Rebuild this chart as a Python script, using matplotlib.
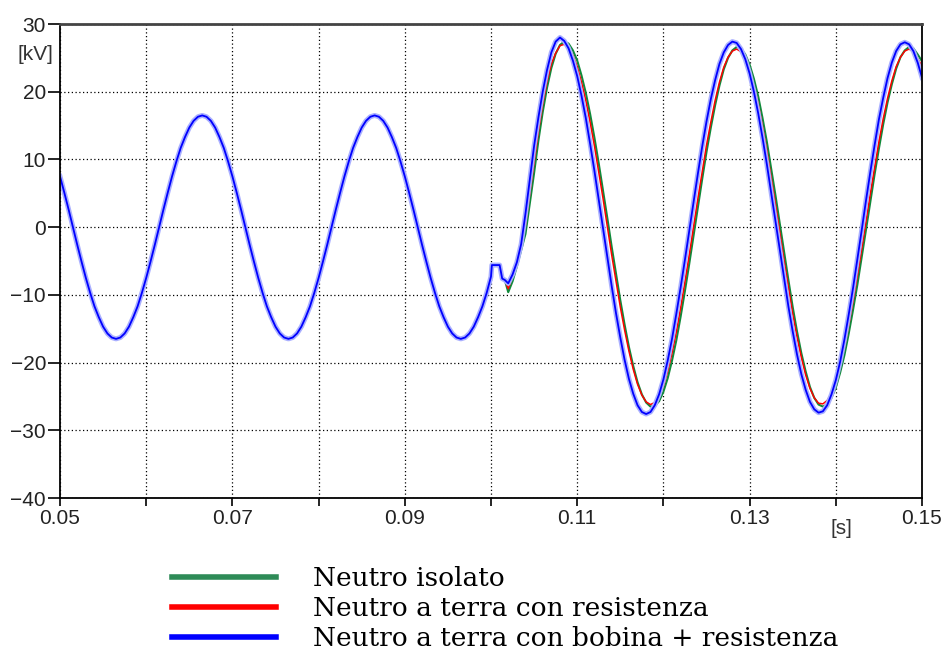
import numpy as np
import matplotlib.pyplot as plt
from matplotlib.lines import Line2D
import matplotlib.patheffects as pe

# tempi [ms] e tensioni [kV] lette dal grafico
# tratto comune prima del guasto (passo 0.5 ms da 50 a 100 ms, poi transitorio)
t_pre = list(np.arange(50.0, 100.01, 0.5)) + [100.1, 101.0, 101.3, 101.6]
v_pre = [7.5, 5.1, 2.6, 0.0, -2.6, -5.1, -7.5, -9.7, -11.7, -13.3,
         -14.7, -15.7, -16.3, -16.5, -16.3, -15.7, -14.7, -13.3, -11.7, -9.7,
         -7.5, -5.1, -2.6, 0.0, 2.6, 5.1, 7.5, 9.7, 11.7, 13.3,
         14.7, 15.7, 16.3, 16.5, 16.3, 15.7, 14.7, 13.3, 11.7, 9.7,
         7.5, 5.1, 2.6, 0.0, -2.6, -5.1, -7.5, -9.7, -11.7, -13.3,
         -14.7, -15.7, -16.3, -16.5, -16.3, -15.7, -14.7, -13.3, -11.7, -9.7,
         -7.5, -5.1, -2.6, 0.0, 2.6, 5.1, 7.5, 9.7, 11.7, 13.3,
         14.7, 15.7, 16.3, 16.5, 16.3, 15.7, 14.7, 13.3, 11.7, 9.7,
         7.5, 5.1, 2.6, 0.0, -2.6, -5.1, -7.5, -9.7, -11.7, -13.3,
         -14.7, -15.7, -16.3, -16.5, -16.3, -15.7, -14.7, -13.3, -11.7, -9.7,
         -7.3,
         -5.6, -5.6, -7.6, -7.8]

# dopo il guasto (passo 0.5 ms da 102 a 150 ms)
t_post = list(np.arange(102.0, 150.01, 0.5))
green_post = [-9.6, -8.0, -5.8, -3.4, -1.0, 3.5, 8.0, 12.8, 17.0, 20.6,
              23.5, 25.6, 26.9, 27.4, 27.1, 26.1, 24.6, 22.4, 19.8, 16.7,
              13.2, 9.4, 5.4, 1.3, -2.9, -6.9, -10.8, -14.4, -17.7, -20.5,
              -22.9, -24.7, -25.9, -26.5, -26.4, -25.7, -24.3, -22.3, -19.7, -16.7,
              -13.2, -9.4, -5.4, -1.2, 3.0, 7.1, 11.1, 14.7, 18.0, 20.9,
              23.3, 25.0, 26.1, 26.6, 26.4, 25.5, 24.0, 21.9, 19.3, 16.1,
              12.6, 8.7, 4.7, 0.5, -3.7, -7.8, -11.8, -15.4, -18.6, -21.3,
              -23.6, -25.2, -26.2, -26.5, -26.2, -25.2, -23.7, -21.5, -18.9, -15.7,
              -12.2, -8.5, -4.5, -0.4, 3.7, 7.8, 11.6, 15.2, 18.4, 21.1,
              23.4, 25.1, 26.1, 26.6, 26.4, 25.5, 24.5]
red_post = [-9.1, -7.3, -5.1, -2.7, 0.3, 4.9, 9.4, 14.1, 18.1, 21.5,
            24.1, 25.7, 26.8, 27.0, 26.5, 25.4, 23.7, 21.4, 18.7, 15.5,
            12.0, 8.1, 4.2, 0.0, -4.1, -8.0, -11.8, -15.2, -18.3, -21.0,
            -23.2, -24.8, -25.8, -26.2, -25.9, -25.0, -23.5, -21.3, -18.6, -15.5,
            -11.9, -8.1, -4.1, 0.1, 4.2, 8.2, 12.1, 15.5, 18.7, 21.4,
            23.6, 25.1, 26.0, 26.3, 25.9, 24.8, 23.2, 20.9, 18.2, 14.9,
            11.3, 7.4, 3.4, -0.8, -4.9, -8.9, -12.8, -16.2, -19.2, -21.8,
            -23.8, -25.2, -26.0, -26.1, -25.6, -24.5, -22.8, -20.5, -17.8, -14.5,
            -11.0, -7.2, -3.3, 0.8, 4.9, 8.8, 12.6, 16.0, 19.0, 21.6,
            23.7, 25.1, 26.0, 26.3, 25.9, 24.9, 23.8]
blue_post = [-8.3, -7.0, -5.2, -2.5, 2.0, 7.0, 12.0, 16.2, 20.0, 23.2,
             25.8, 27.4, 28.0, 27.5, 26.4, 24.6, 22.3, 19.4, 16.1, 12.3,
             8.3, 4.1, -0.2, -4.5, -8.7, -12.7, -16.3, -19.6, -22.4, -24.6,
             -26.3, -27.3, -27.6, -27.3, -26.3, -24.7, -22.5, -19.7, -16.5, -12.8,
             -8.9, -4.8, -0.5, 3.7, 7.9, 11.9, 15.6, 18.9, 21.7, 24.1,
             25.8, 26.9, 27.4, 27.2, 26.3, 24.8, 22.7, 20.0, 16.8, 13.2,
             9.3, 5.1, 0.9, -3.4, -7.6, -11.7, -15.4, -18.8, -21.7, -24.0,
             -25.8, -26.9, -27.4, -27.2, -26.3, -24.7, -22.6, -19.9, -16.6, -12.9,
             -9.0, -4.8, -0.5, 3.9, 8.1, 12.1, 15.9, 19.1, 22.0, 24.3,
             26.0, 27.0, 27.3, 27.0, 26.0, 24.3, 22.1]

labels = ["Neutro isolato",
          "Neutro a terra con resistenza",
          "Neutro a terra con bobina + resistenza"]
colors = ["#108a3a", "#ff0000", "#0000ff"]
legend_colors = ["#2e8b57", "#ff0000", "#0000ff"]

t = np.array(t_pre + t_post) / 1000.0
series = [v_pre + green_post, v_pre + red_post, v_pre + blue_post]

fig = plt.figure(figsize=(9.52, 6.64), dpi=100)
ax = fig.add_axes([60 / 952, 166 / 664, 862 / 952, 474 / 664])

ax.plot(t, series[0], color=colors[0], lw=1.5, solid_joinstyle="round")
ax.plot(t, series[1], color=colors[1], lw=1.1, solid_joinstyle="round")
ax.plot(t, series[2], color=colors[2], lw=1.3, solid_joinstyle="round",
        path_effects=[pe.Stroke(linewidth=3.6, foreground="#aab0ff"), pe.Normal()])

ax.set_xlim(0.05, 0.15)
ax.set_ylim(-40, 30)
xt = np.round(np.arange(0.05, 0.1501, 0.01), 2)
ax.set_xticks(xt)
ax.set_xticklabels([f"{v:.2f}" if i % 2 == 0 else "" for i, v in enumerate(xt)])
ax.set_yticks(np.arange(-40, 31, 10))
ax.grid(True, color="black", linestyle=(0, (1, 2)), lw=0.9)
for s in ax.spines.values():
    s.set_linewidth(1.3)
ax.spines["top"].set_color("#444444")
ax.spines["top"].set_linewidth(2)
ax.tick_params(axis="y", length=9, width=1.2, pad=1, labelsize=15, labelcolor="#222222")
ax.tick_params(axis="x", length=6, width=1.2, pad=2, labelsize=15, labelcolor="#222222")
for lab in ax.get_xticklabels() + ax.get_yticklabels():
    lab.set_family("Liberation Sans")

fig.text(35 / 952, 1 - 55 / 664, "[kV]", ha="center", va="center",
         fontsize=15, color="#333333", family="Liberation Sans")
fig.text(841 / 952, 1 - 528 / 664, "[s]", ha="center", va="center",
         fontsize=15, color="#333333", family="Liberation Sans")

handles = [Line2D([], [], color=c, lw=4) for c in legend_colors]
fig.legend(handles, labels, loc="upper left", bbox_to_anchor=(159 / 952, 1 - 553 / 664),
           frameon=False, borderpad=0, handlelength=3.95, handletextpad=1.4,
           labelspacing=0.19, prop={"family": "DejaVu Serif", "size": 19})

fig.savefig("out.png", dpi=100)
